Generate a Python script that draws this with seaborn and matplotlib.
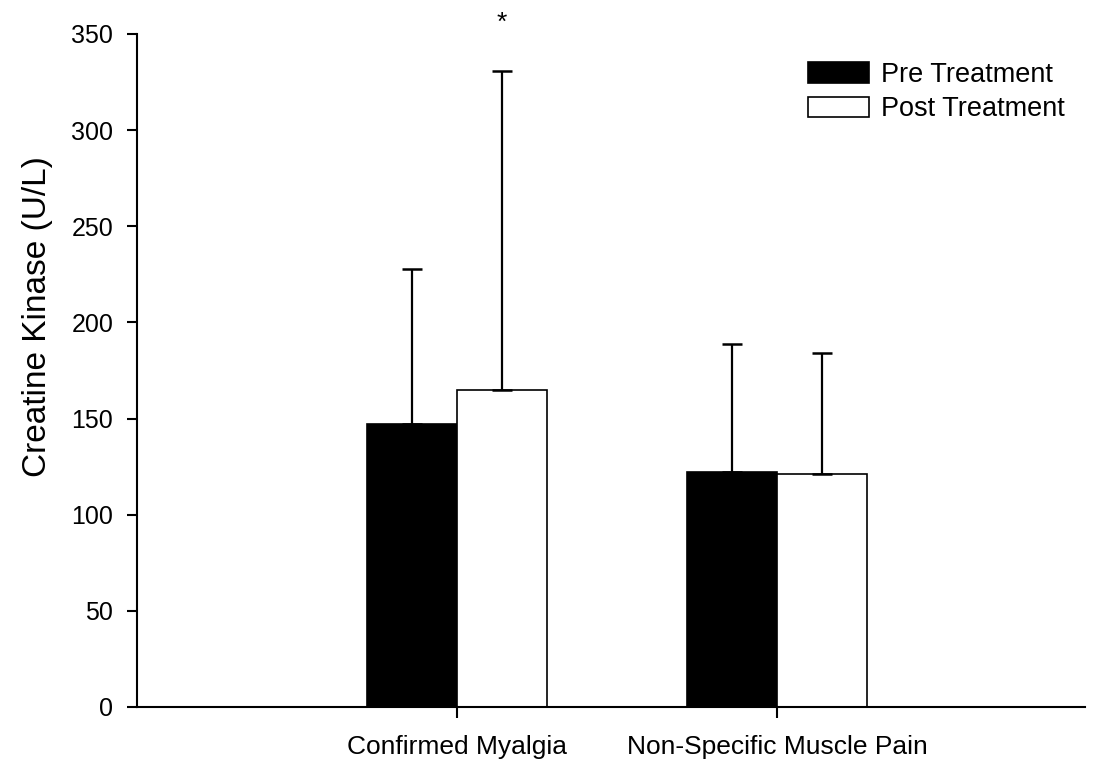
import pandas as pd
import numpy as np
import matplotlib
matplotlib.use("Agg")
import matplotlib.pyplot as plt
import seaborn as sns

# Values
groups = ["Confirmed Myalgia", "Non-Specific Muscle Pain"]
treatments = ["Pre Treatment", "Post Treatment"]
pre_mean = [147, 122]
post_mean = [165, 121]
pre_sd = [81, 67]
post_sd = [166, 63]

df = pd.DataFrame({
    "group": groups * 2,
    "time": [treatments[0]] * 2 + [treatments[1]] * 2,
    "ck": pre_mean + post_mean,
})
sds = {treatments[0]: pre_sd, treatments[1]: post_sd}

sns.set_style("white", {"text.color": "black", "axes.labelcolor": "black",
                        "xtick.color": "black", "ytick.color": "black",
                        "axes.edgecolor": "black"})
plt.rcParams["font.family"] = ["Liberation Sans", "DejaVu Sans"]

fig = plt.figure(figsize=(11, 7.62), dpi=100)
ax = fig.add_axes([0.1245, 0.0722, 0.862, 0.8832])

sns.barplot(data=df, x="group", y="ck", hue="time", hue_order=treatments,
            palette={treatments[0]: "black", treatments[1]: "white"},
            edgecolor="black", linewidth=1.2, width=0.56, gap=0,
            errorbar=None, saturation=1, ax=ax)

# upper-only error bars, taken from bar geometry
for cont, level in zip(ax.containers, treatments):
    for bar, sd in zip(cont.patches, sds[level]):
        xc = bar.get_x() + bar.get_width() / 2
        top = bar.get_height()
        ax.errorbar(xc, top, yerr=[[0], [sd]], fmt="none", ecolor="black",
                    elinewidth=1.6, capsize=7, capthick=1.8, zorder=1)

# significance marker over post bar of the first group
post_bar = ax.containers[1].patches[0]
ax.text(post_bar.get_x() + post_bar.get_width() / 2, 352, "*", ha="center",
        va="baseline", fontsize=19, clip_on=False)

ax.set_xlim(-1.0, 1.9625)
ax.set_ylim(0, 350)
ax.set_yticks(np.arange(0, 351, 50))
ax.set_xlabel("")
ax.set_ylabel("Creatine Kinase (U/L)", fontsize=24, labelpad=13)
ax.yaxis.label.set_y(0.58)
ax.tick_params(axis="y", labelsize=18, length=7, width=1.5, direction="out", left=True, pad=10)
ax.tick_params(axis="x", labelsize=19, length=8, width=1.5, direction="out", bottom=True, pad=12)

for s in ["top", "right"]:
    ax.spines[s].set_visible(False)
for s in ["left", "bottom"]:
    ax.spines[s].set_linewidth(1.5)

ax.legend(title=None, frameon=False, loc="upper right", fontsize=19.5,
          bbox_to_anchor=(1.004, 0.995), handlelength=2.25, handleheight=0.8,
          handletextpad=0.45, labelspacing=0.32)

fig.savefig("out.png", dpi=100)
